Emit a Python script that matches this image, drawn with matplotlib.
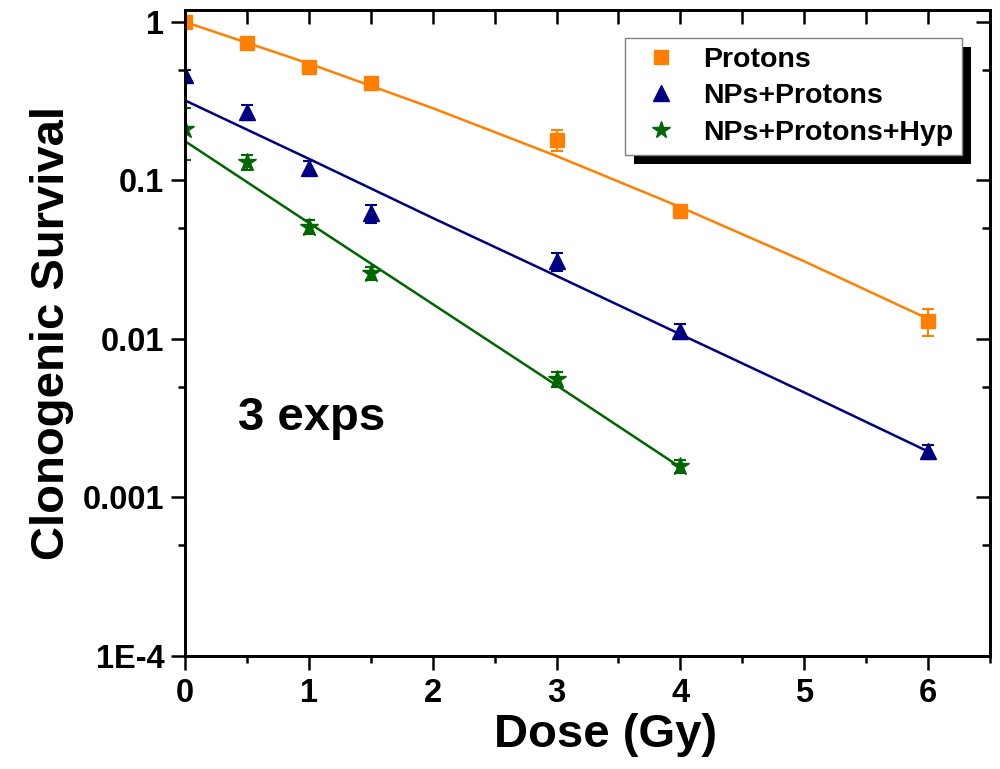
import numpy as np
import matplotlib
matplotlib.use('Agg')
import matplotlib.pyplot as plt
from matplotlib.patches import Rectangle
from matplotlib.lines import Line2D
from matplotlib.transforms import IdentityTransform
from matplotlib.ticker import FixedLocator, NullFormatter

plt.rcParams['font.family'] = ['Liberation Sans', 'DejaVu Sans']
plt.rcParams['font.weight'] = 'bold'

# measured survival (points) and errors
dose = [0, 0.5, 1, 1.5, 3, 4, 6]
protons = [1.0, 0.74, 0.52, 0.41, 0.18, 0.064, 0.013]
protons_err = [0.02, 0.03, 0.03, 0.02, 0.027, 0.004, 0.0025]
nps = [0.46, 0.27, 0.12, 0.062, 0.031, 0.0112, 0.00195]
nps_err = [0.04, 0.03, 0.012, 0.008, 0.004, 0.0012, 0.0002]

dose_hyp = [0, 0.5, 1, 1.5, 3, 4]
hyp = [0.21, 0.13, 0.051, 0.026, 0.0056, 0.00157]
hyp_err = [0.075, 0.014, 0.005, 0.0025, 0.0006, 0.00015]

# fit lines
fit_dose = [0, 1, 2, 3, 4, 5, 6]
protons_fit = [1.0, 0.547, 0.286, 0.1426, 0.0679, 0.0309, 0.0134]
nps_fit = [0.32, 0.137, 0.058, 0.025, 0.0107, 0.0046, 0.00195]
fit_dose_hyp = [0, 1, 2, 3, 4]
hyp_fit = [0.177, 0.054, 0.0166, 0.0051, 0.00155]

labels = ['Protons', 'NPs+Protons', 'NPs+Protons+Hyp']

orange = '#FF8000'
navy = '#000080'
green = '#006600'

fig = plt.figure(figsize=(10, 7.69), dpi=100)
ax = fig.add_axes([0.185, 0.147, 0.805, 0.84])

ax.plot(fit_dose, protons_fit, color=orange, lw=1.8, zorder=2)
ax.plot(fit_dose, nps_fit, color=navy, lw=1.8, zorder=2)
ax.plot(fit_dose_hyp, hyp_fit, color=green, lw=1.8, zorder=2)

ekw = dict(linestyle='none', capsize=4.5, capthick=1.5, elinewidth=1.5, zorder=3)
ax.errorbar(dose, protons, yerr=protons_err, fmt='s', color=orange, ms=10.5, **ekw)
ax.errorbar(dose, nps, yerr=nps_err, fmt='^', color=navy, ms=11.5, **ekw)
ax.errorbar(dose_hyp, hyp, yerr=hyp_err, fmt='*', color=green, ms=13.5, **ekw)

ax.set_yscale('log')
ax.set_xlim(0, 6.5)
ax.set_ylim(1e-4, 1.19)

ax.xaxis.set_major_locator(FixedLocator([0, 1, 2, 3, 4, 5, 6]))
ax.xaxis.set_minor_locator(FixedLocator([0.5, 1.5, 2.5, 3.5, 4.5, 5.5, 6.5]))
ax.yaxis.set_major_locator(FixedLocator([1e-4, 1e-3, 1e-2, 1e-1, 1]))
ax.set_yticklabels(['1E-4', '0.001', '0.01', '0.1', '1'])
ax.yaxis.set_minor_locator(FixedLocator([5e-4, 5e-3, 5e-2, 5e-1]))
ax.yaxis.set_minor_formatter(NullFormatter())

ax.tick_params(which='major', direction='out', length=10, width=1.8, labelsize=23.5)
ax.tick_params(which='minor', direction='out', length=5, width=1.8)
ax.tick_params(axis='x', which='major', pad=6)
ax.tick_params(axis='y', which='major', pad=5)
for s in ax.spines.values():
    s.set_linewidth(1.8)

# inward ticks on top and right
axt = ax.twiny()
axt.set_xlim(ax.get_xlim())
axt.xaxis.set_major_locator(FixedLocator(np.arange(0.5, 6.5, 0.5)))
axt.tick_params(direction='in', length=10, width=1.8, labeltop=False)
axr = ax.twinx()
axr.set_yscale('log')
axr.set_ylim(ax.get_ylim())
axr.yaxis.set_major_locator(FixedLocator([1e-3, 1e-2, 1e-1, 1]))
axr.yaxis.set_minor_locator(FixedLocator([5e-4, 5e-3, 5e-2, 5e-1]))
axr.tick_params(which='major', direction='in', length=10, width=1.8, labelright=False)
axr.tick_params(which='minor', direction='in', length=6, width=1.8, labelright=False)
for a in (axt, axr):
    for s in a.spines.values():
        s.set_linewidth(1.8)
    a.patch.set_visible(False)

ax.set_xlabel('Dose (Gy)', fontsize=34, fontweight='bold', x=0.523, labelpad=3)
ax.set_ylabel('Clonogenic Survival', fontsize=34, fontweight='bold', labelpad=6)

ax.text(238, 769 - 418, '3 exps', transform=IdentityTransform(), fontsize=34,
        fontweight='bold', va='center', ha='left')

handles = [Line2D([], [], ls='none', marker='s', color=orange, ms=10),
           Line2D([], [], ls='none', marker='^', color=navy, ms=11),
           Line2D([], [], ls='none', marker='*', color=green, ms=13)]
leg = axr.legend(handles, labels, loc='upper right',
                 bbox_to_anchor=(0.962, 1 - 38 / 769), bbox_transform=fig.transFigure,
                 borderaxespad=0, fontsize=20.5, borderpad=0.3, handlelength=1.9,
                 handletextpad=0.55, labelspacing=0.38, fancybox=False,
                 edgecolor='#808080', framealpha=1)
leg.get_frame().set_linewidth(1.0)
leg.set_zorder(10)

fig.canvas.draw()
bb = leg.get_frame().get_window_extent()
shadow = Rectangle((bb.x0 + 9, bb.y0 - 9), bb.width, bb.height, transform=IdentityTransform(),
                   facecolor='black', edgecolor='none', zorder=9)
axr.add_artist(shadow)

fig.savefig('out.png', dpi=100)
